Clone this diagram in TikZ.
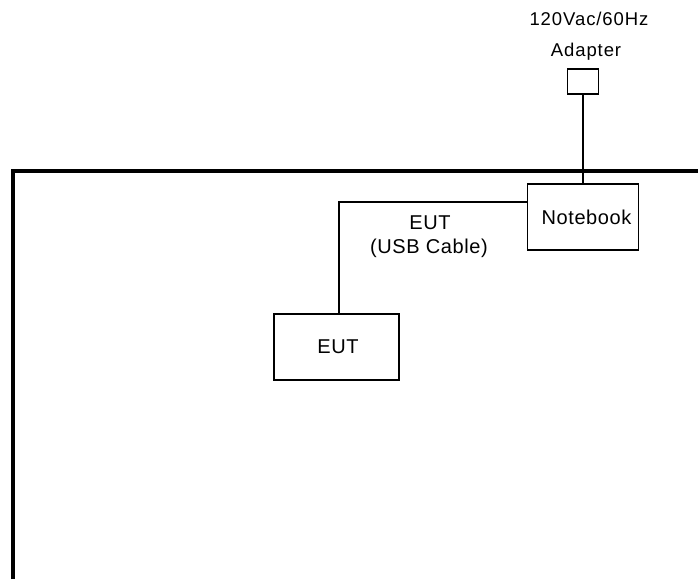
\documentclass[tikz,border=0pt]{standalone}
\usepackage{fontspec}
\setmainfont{Liberation Sans}
\begin{document}
\begin{tikzpicture}[x=1pt,y=-1pt,
  thin line/.style={line width=1.7pt},
  devbox/.style={draw,thin line,rectangle,inner sep=0pt,
    font=\fontsize{20}{22}\selectfont\addfontfeature{LetterSpace=3}},
  toplabel/.style={anchor=base,inner sep=0pt,
    font=\fontsize{18.5}{20}\selectfont\addfontfeature{LetterSpace=5}},
  cablelabel/.style={anchor=base,inner sep=0pt,
    font=\fontsize{20}{22}\selectfont\addfontfeature{LetterSpace=3}}]
\useasboundingbox (0,0) rectangle (698,579);
% room frame
\draw[line width=4pt] (13,579) -- (13,171) -- (698,171);
% labels
\node[toplabel] (lblvolt) at (589,25) {120Vac/60Hz};
\node[toplabel] (lbladapt) at (586,56) {Adapter};
% boxes
\node[devbox,minimum width=31pt,minimum height=25pt] (adapter) at (583,81.5) {};
\node[devbox,minimum width=111pt,minimum height=66pt] (notebook) at (583,217) {\hspace*{7pt}Notebook};
\node[devbox,minimum width=125pt,minimum height=66pt] (eut) at (336.5,347) {\hspace*{3pt}EUT};
% connectors
\draw[thin line] (adapter) -- (notebook);
\draw[thin line] ([yshift=15pt]notebook.west) -| ([xshift=2.5pt]eut.north);
% cable label
\node[cablelabel] (cab1) at (430,229) {EUT};
\node[cablelabel] (cab2) at (429,253) {(USB Cable)};
\end{tikzpicture}
\end{document}
